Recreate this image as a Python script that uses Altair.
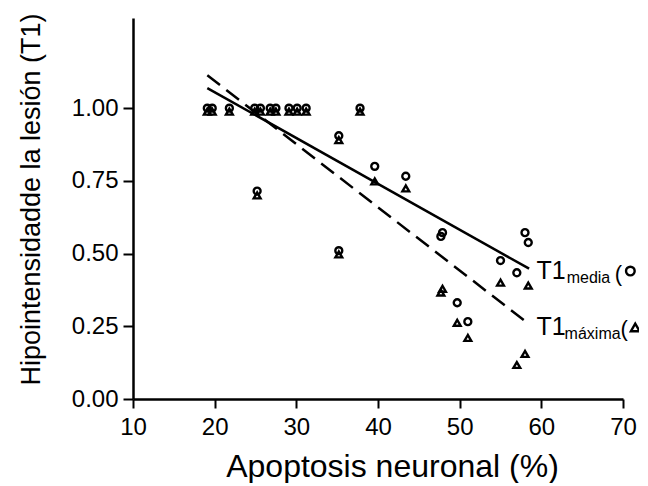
import altair as alt
import pandas as pd

# --- data ---
apoptosis = [19.1, 19.7, 21.8, 24.9, 25.6, 26.8, 27.5, 29.1, 30.1, 31.2, 37.8,
             25.2, 35.2, 35.2, 39.6, 43.4, 47.9, 47.7, 49.7, 51.0, 55.0, 57.0, 58.0, 58.4]
t1_media = [1.0, 1.0, 1.0, 1.0, 1.0, 1.0, 1.0, 1.0, 1.0, 1.0, 1.0,
            0.715, 0.905, 0.51, 0.80, 0.766, 0.572, 0.559, 0.331, 0.266, 0.476, 0.434, 0.572, 0.538]
t1_maxima = [0.988, 0.988, 0.988, 0.988, 0.988, 0.988, 0.988, 0.988, 0.988, 0.988, 0.988,
             0.70, 0.89, 0.497, 0.748, 0.724, 0.379, 0.366, 0.262, 0.21, 0.40, 0.117, 0.155, 0.39]

# regression (fit) lines: endpoints in data units
fit_media_x = [19.1, 58.5]
fit_media_y = [1.069, 0.448]
fit_maxima_x = [19.1, 58.1]
fit_maxima_y = [1.113, 0.266]

# annotation labels (data units)
label_text = ["T1", "media", "(", "T1", "máxima", "("]
label_x = [59.4, 63.1, 69.0, 59.4, 62.85, 69.7]
label_y = [0.412, 0.399, 0.407, 0.22, 0.206, 0.215]
label_size = [25, 16, 22, 25, 16, 22]
marker_x = [70.9, 71.5]
marker_y = [0.44, 0.246]
marker_shape = ["circle", "triangle-up"]

FONT = "Liberation Sans"

pts = pd.DataFrame({"x": apoptosis, "media": t1_media, "maxima": t1_maxima})
fm = pd.DataFrame({"x": fit_media_x, "y": fit_media_y})
fx = pd.DataFrame({"x": fit_maxima_x, "y": fit_maxima_y})
lab = pd.DataFrame({"x": label_x, "y": label_y, "t": label_text, "fs": label_size})
mk = pd.DataFrame({"x": marker_x, "y": marker_y, "shape": marker_shape})

xscale = alt.Scale(domain=[10, 70], nice=False, zero=False)
yscale = alt.Scale(domain=[0, 1.31], nice=False, zero=False)

xaxis = alt.Axis(values=[10, 20, 30, 40, 50, 60, 70], title="Apoptosis neuronal (%)",
                 grid=False, labelFlush=False, labelOverlap=False,
                 domainColor="black", domainWidth=2.5, tickColor="black", tickWidth=2,
                 tickSize=9, labelFont=FONT, labelFontSize=24, labelColor="black",
                 labelPadding=7, titleFont=FONT, titleFontSize=32, titleFontWeight="normal",
                 titleColor="black", titlePadding=12, titleX=259)
yaxis = alt.Axis(values=[0, 0.25, 0.5, 0.75, 1.0], format=".2f",
                 title="Hipointensidadde la lesión (T1)",
                 grid=False, labelOverlap=False, labelFlush=False,
                 domainColor="black", domainWidth=2.5, tickColor="black", tickWidth=2,
                 tickSize=10, labelFont=FONT, labelFontSize=24, labelColor="black",
                 labelPadding=5, titleFont=FONT, titleFontSize=27, titleFontWeight="normal",
                 titleColor="black", titlePadding=26, titleY=181)

base = alt.Chart(pts)

media_pts = base.mark_point(shape="circle", filled=False, color="black",
                            strokeWidth=2.4, size=48, opacity=1).encode(
    x=alt.X("x:Q", scale=xscale, axis=xaxis),
    y=alt.Y("media:Q", scale=yscale, axis=yaxis),
)
max_pts = base.mark_point(shape="triangle-up", filled=False, color="black",
                          strokeWidth=2.4, size=46, opacity=1).encode(
    x=alt.X("x:Q"), y=alt.Y("maxima:Q"),
)

line_media = alt.Chart(fm).mark_line(color="black", strokeWidth=2.5).encode(
    x="x:Q", y="y:Q")
line_max = alt.Chart(fx).mark_line(color="black", strokeWidth=2.5,
                                   strokeDash=[16, 8]).encode(x="x:Q", y="y:Q")

labels = alt.Chart(lab).mark_text(align="left", baseline="alphabetic", font=FONT,
                                  color="black").encode(
    x="x:Q", y="y:Q", text="t:N", size=alt.Size("fs:Q", scale=None, legend=None))

markers = alt.Chart(mk).mark_point(filled=False, color="black", strokeWidth=2.4,
                                   size=75, opacity=1).encode(
    x="x:Q", y="y:Q", shape=alt.Shape("shape:N", scale=None, legend=None))

chart = alt.layer(line_media, line_max, max_pts, media_pts, labels, markers).properties(
    width=490, height=381,
    autosize=alt.AutoSizeParams(type="none"),
    padding={"left": 125, "top": 10, "right": 16, "bottom": 84},
).configure_view(stroke=None)

chart.save("out.html", embed_options={"renderer": "svg", "actions": False})
